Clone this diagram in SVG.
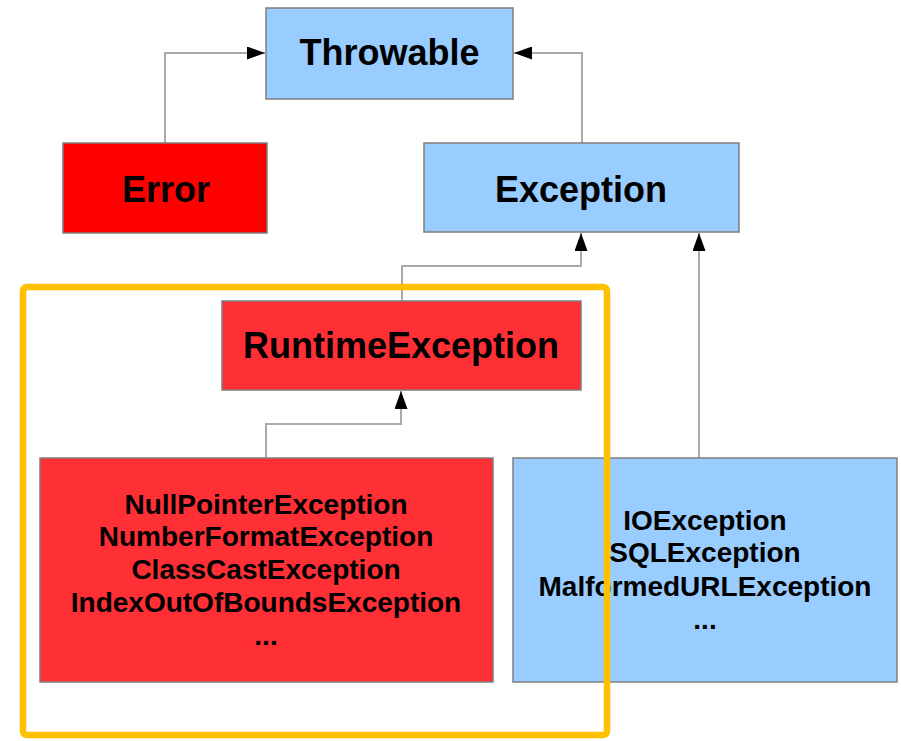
<svg xmlns="http://www.w3.org/2000/svg" width="901" height="741" viewBox="0 0 901 741">
<defs>
<style>
.box{stroke:#7f7f7f;stroke-width:1.5}
.blue{fill:#99ccff}
.red{fill:#ff0000}
.rred{fill:#ff2f36}
.t{font-family:"Liberation Sans",Arial,sans-serif;font-weight:bold;fill:#000;text-anchor:middle}
.big{font-size:36px}
.small{font-size:28px}
.conn{fill:none;stroke:#aaaaaa;stroke-width:2}
</style>
<marker id="arr" markerWidth="18" markerHeight="13" refX="18" refY="6.5" orient="auto" markerUnits="userSpaceOnUse">
<path d="M0,0 L18,6.5 L0,13 z" fill="#000"/>
</marker>
</defs>
<rect width="901" height="741" fill="#ffffff"/>
<g id="connectors">
<path class="conn" d="M165,143 V53 H265" marker-end="url(#arr)"/>
<path class="conn" d="M582,143 V53 H514" marker-end="url(#arr)"/>
<path class="conn" d="M402,301 V266 H581 V233" marker-end="url(#arr)"/>
<path class="conn" d="M266,458 V424 H401 V391" marker-end="url(#arr)"/>
<path class="conn" d="M699,458 V233" marker-end="url(#arr)"/>
</g>
<g id="throwable">
<rect class="box blue" x="266" y="8" width="247" height="91"/>
<text class="t big" x="389.5" y="65">Throwable</text>
</g>
<g id="error">
<rect class="box red" x="63" y="143" width="204" height="90"/>
<text class="t big" x="166" y="202">Error</text>
</g>
<g id="exception">
<rect class="box blue" x="424" y="143" width="315" height="89"/>
<text class="t big" x="581" y="202">Exception</text>
</g>
<g id="runtime">
<rect class="box rred" x="222" y="301" width="359" height="89"/>
<text class="t big" x="401" y="358">RuntimeException</text>
</g>
<g id="unchecked">
<rect class="box rred" x="40" y="458" width="453" height="224"/>
<text class="t small" x="266" y="514">NullPointerException</text>
<text class="t small" x="266" y="546">NumberFormatException</text>
<text class="t small" x="266" y="579">ClassCastException</text>
<text class="t small" x="266" y="612">IndexOutOfBoundsException</text>
<text class="t small" x="266" y="645">...</text>
</g>
<g id="checked">
<rect class="box blue" x="513" y="458" width="384" height="224"/>
<text class="t small" x="705" y="530">IOException</text>
<text class="t small" x="705" y="562">SQLException</text>
<text class="t small" x="705" y="596">MalformedURLException</text>
<text class="t small" x="705" y="629">...</text>
</g>
<g id="highlight">
<rect x="23" y="287" width="584" height="448" rx="4" fill="none" stroke="#ffc000" stroke-width="6.5"/>
</g>
</svg>
